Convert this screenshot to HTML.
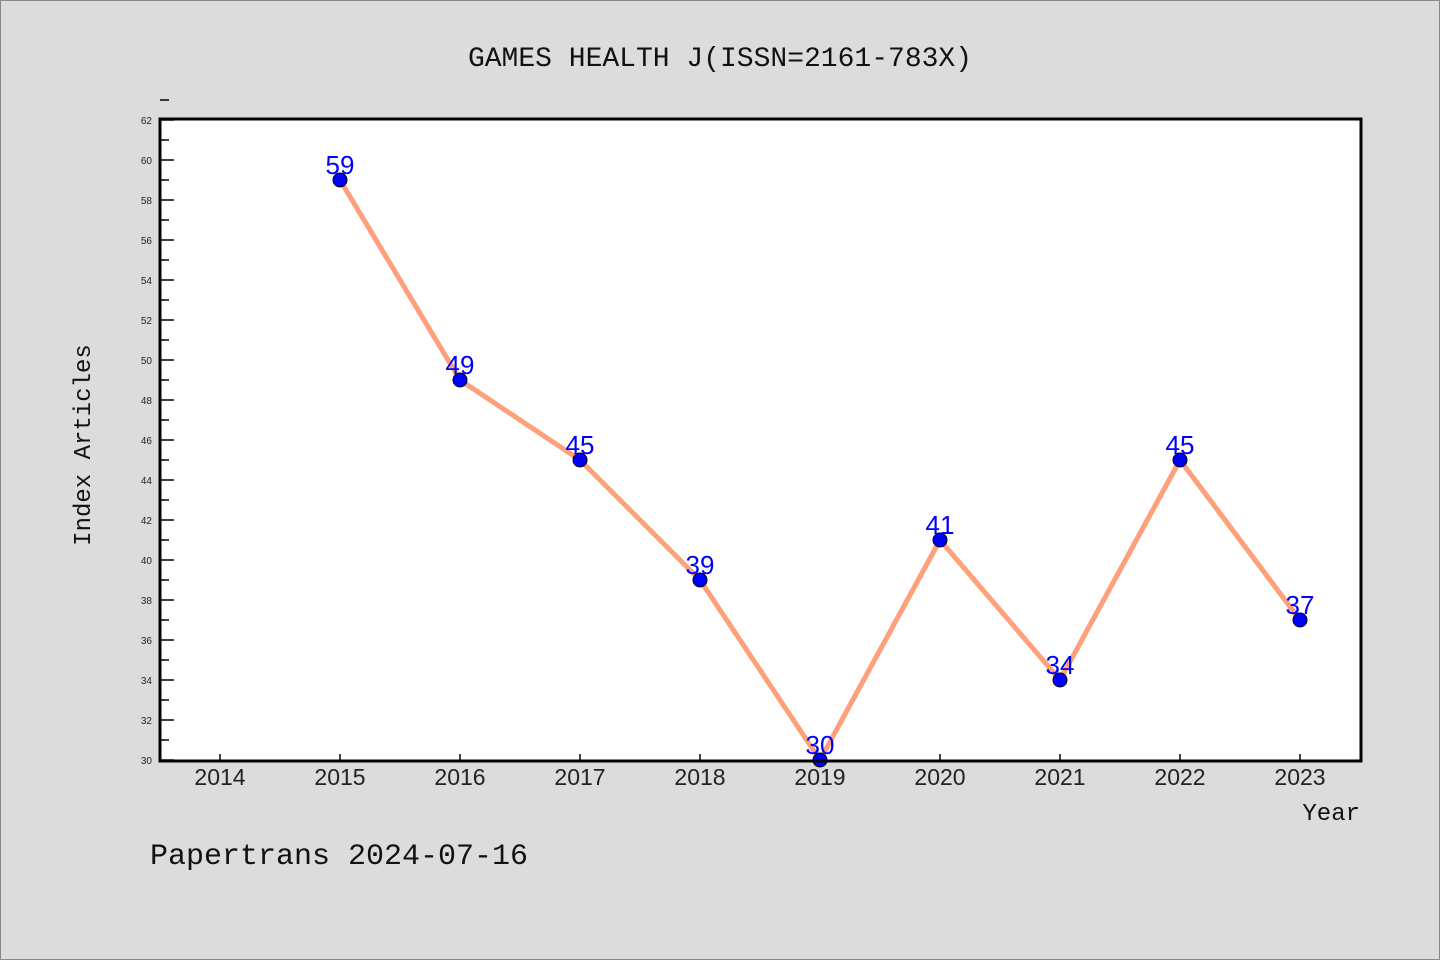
<!DOCTYPE html>
<html><head><meta charset="utf-8"><style>
body{margin:0;background:#dcdcdc;}
svg{display:block;font-family:"Liberation Sans",sans-serif;}
.mono{font-family:"Liberation Mono","DejaVu Sans Mono",monospace;}
</style></head><body>
<svg id="chart" width="1440" height="960">
<rect x="0.5" y="0.5" width="1439" height="959" fill="#dcdcdc" stroke="#888"/>
<text x="720" y="66" text-anchor="middle" font-size="28" class="mono" fill="#111">GAMES HEALTH J(ISSN=2161-783X)</text>
<rect x="160" y="120" width="1201" height="640" fill="#fff"/>
<g id="ticks"></g>
<g id="series"></g>
<path d="M160,119 V761 H1361 V119 Z" fill="none" stroke="#000" stroke-width="3"/>
<text transform="translate(90,445) rotate(-90)" text-anchor="middle" font-size="24" class="mono" fill="#111">Index Articles</text>
<text x="1360" y="820" text-anchor="end" font-size="24" class="mono" fill="#111">Year</text>
<text x="150" y="864" font-size="30" class="mono" fill="#111">Papertrans 2024-07-16</text>
</svg>
<script>
const years=[2014,2015,2016,2017,2018,2019,2020,2021,2022,2023];
const seriesYears=[2015,2016,2017,2018,2019,2020,2021,2022,2023];
const values=[59,49,45,39,30,41,34,45,37];
const yTicks=[30,32,34,36,38,40,42,44,46,48,50,52,54,56,58,60,62];
const NS="http://www.w3.org/2000/svg";
const xs=y=>220+(y-2014)*120;
const ys=v=>760-(v-30)*20;
function mk(t,a,p){const e=document.createElementNS(NS,t);for(const k in a)e.setAttribute(k,a[k]);p.appendChild(e);return e;}
const tg=document.getElementById('ticks');
yTicks.forEach(v=>{
 const l=mk('line',{x1:160,x2:174,y1:ys(v),y2:ys(v),stroke:'#000','stroke-width':1.5},tg);
 
 
 const m=mk('line',{x1:160,x2:169,y1:ys(v+1),y2:ys(v+1),stroke:'#000','stroke-width':1.5},tg);
 
 
 const t=mk('text',{x:152,y:ys(v)+4,'text-anchor':'end','font-size':10,fill:'#222'},tg);
 t.textContent=v;
 
 
});
years.forEach(y=>{
 const l=mk('line',{x1:xs(y),x2:xs(y),y1:760,y2:754,stroke:'#000','stroke-width':1.5},tg);
 
 
 const t=mk('text',{x:xs(y),y:785,'text-anchor':'middle','font-size':23,fill:'#222'},tg);
 t.textContent=y;
 
 
});
const sg=document.getElementById('series');
const pl=mk('polyline',{points:seriesYears.map((y,i)=>xs(y)+','+ys(values[i])).join(' '),fill:'none',stroke:'#ffa07a','stroke-width':5,'stroke-linejoin':'round'},sg);


seriesYears.forEach((y,i)=>{
 const c=mk('circle',{cx:xs(y),cy:ys(values[i]),r:7,fill:'#0000ff',stroke:'#000','stroke-width':1},sg);
 
 
 const t=mk('text',{x:xs(y),y:ys(values[i])-6,'text-anchor':'middle','font-size':26,fill:'#0000ff'},sg);
 t.textContent=values[i];
 
 
});
</script>
</body></html>
